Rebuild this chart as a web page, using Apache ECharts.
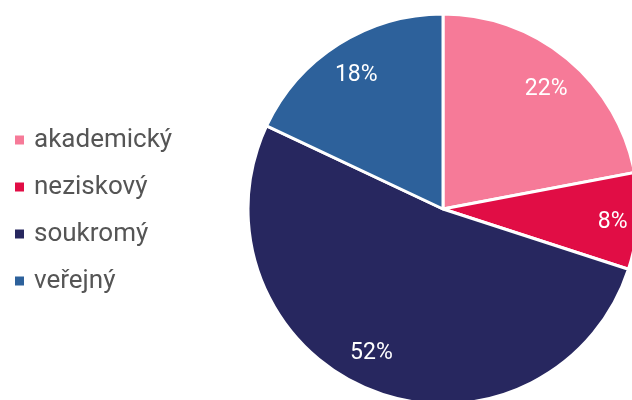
<!DOCTYPE html>
<html>
<head>
<meta charset="utf-8">
<script src="https://cdn.jsdelivr.net/npm/echarts@6/dist/echarts.min.js"></script>
<style>
  html, body { margin: 0; padding: 0; background: #fff; }
  #chart { width: 632px; height: 400px; }
</style>
</head>
<body>
<div id="chart"></div>
<script>
// Sector shares (percent)
const categories = ['akademický', 'neziskový', 'soukromý', 'veřejný'];
const shares = [22, 8, 52, 18];
const colors = ['#f67a98', '#e10d45', '#27275f', '#2d619b'];

// small nudges for the percentage labels
const labelNudge = [[0, 5], [8, 3], [-12, -6], [0, 3]];

const pieData = categories.map((name, i) => ({
  name: name,
  value: shares[i],
  itemStyle: { color: colors[i] }
}));

const chart = echarts.init(document.getElementById('chart'), null, { renderer: 'canvas' });

const center = [443, 209];
const R = 195;

chart.setOption({
  animation: false,
  color: colors,
  legend: {
    orient: 'vertical',
    left: 13,
    top: 126,
    padding: 0,
    icon: 'rect',
    itemWidth: 11,
    itemHeight: 11,
    itemGap: 19,
    textStyle: { fontFamily: 'Roboto', fontSize: 26, lineHeight: 28, color: '#555', padding: [0, 0, 0, 4] },
    data: categories
  },
  series: [
    {
      // the pie itself
      type: 'pie',
      center: center,
      radius: [0, R],
      startAngle: 90,
      clockwise: true,
      silent: true,
      itemStyle: { borderColor: '#fff', borderWidth: 3 },
      label: { show: false },
      labelLine: { show: false },
      data: pieData
    },
    {
      // label ring: places the percentage text toward the rim
      type: 'pie',
      center: center,
      radius: [R * 0.63, R],
      startAngle: 90,
      clockwise: true,
      silent: true,
      legendHoverLink: false,
      itemStyle: { color: 'rgba(0,0,0,0)', borderWidth: 0 },
      label: {
        show: true,
        position: 'inside',
        formatter: p => p.value + '%',
        fontFamily: 'Roboto',
        fontSize: 23,
        color: '#fff'
      },
      labelLine: { show: false },
      data: categories.map((name, i) => ({
        name: name,
        value: shares[i],
        label: { offset: labelNudge[i] }
      }))
    }
  ]
});
</script>
</body>
</html>
